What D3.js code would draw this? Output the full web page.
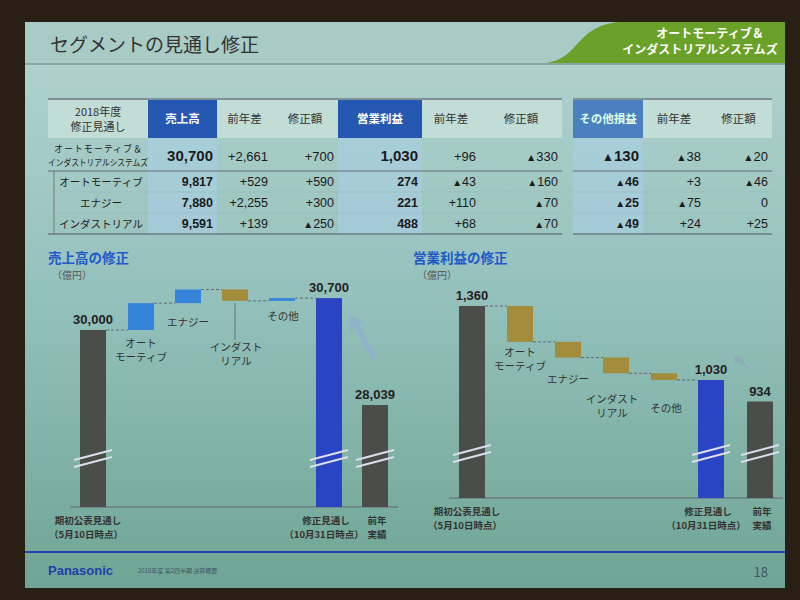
<!DOCTYPE html>
<html><head><meta charset="utf-8">
<script src="https://cdn.jsdelivr.net/npm/d3@7/dist/d3.min.js"></script>
<style>body{margin:0;background:#2a1f14}svg{display:block}</style>
</head><body><svg id="c" width="800" height="600"></svg>
<script>
const tableCols = ["売上高","前年差","修正額","営業利益","前年差","修正額"];
const tableCols2 = ["その他損益","前年差","修正額"];
const rowLabels = [["オートモーティブ＆","インダストリアルシステムズ"],["オートモーティブ"],["エナジー"],["インダストリアル"]];
const salesRows = [["30,700","+2,661","+700"],["9,817","+529","+590"],["7,880","+2,255","+300"],["9,591","+139","▲250"]];
const profitRows = [["1,030","+96","▲330"],["274","▲43","▲160"],["221","+110","▲70"],["488","+68","▲70"]];
const otherRows = [["▲130","▲38","▲20"],["▲46","+3","▲46"],["▲25","▲75","0"],["▲49","+24","+25"]];

const salesStart = 30000, salesEnd = 30700, salesPrev = 28039;
const salesSteps = [{n:"オートモーティブ",v:590},{n:"エナジー",v:300},{n:"インダストリアル",v:-250},{n:"その他",v:60}];
const profStart = 1360, profEnd = 1030, profPrev = 934;
const profSteps = [{n:"オートモーティブ",v:-160},{n:"エナジー",v:-70},{n:"インダストリアル",v:-70},{n:"その他",v:-30}];

const svg = d3.select("#c");
const F = "'Noto Sans CJK JP','Noto Sans',sans-serif";
const N = "'Liberation Sans','DejaVu Sans',sans-serif";
const defs = svg.append("defs");
const g1 = defs.append("linearGradient").attr("id","bg").attr("x1",0).attr("y1",0).attr("x2",0).attr("y2",1);
g1.append("stop").attr("offset","0").attr("stop-color","#b4d4cf");
g1.append("stop").attr("offset","0.5").attr("stop-color","#93c0bb");
g1.append("stop").attr("offset","1").attr("stop-color","#6fa594");
svg.append("rect").attr("x",25).attr("y",22).attr("width",760).attr("height",566).attr("fill","url(#bg)");
svg.append("rect").attr("x",25).attr("y",22).attr("width",760).attr("height",41).attr("fill","#a9cbc6");
svg.append("line").attr("x1",25).attr("x2",785).attr("y1",64).attr("y2",64).attr("stroke","#7a9a95").attr("stroke-width",1.5);
svg.append("path").attr("d","M545,63 C580,60 575,25 620,22 L785,22 L785,63 Z").attr("fill","#6aa128");
svg.append("text").attr("x",50).attr("y",52).attr("font-family",F).attr("font-size",19).attr("fill","#333").text("セグメントの見通し修正");
svg.append("text").attr("x",710).attr("y",38).attr("text-anchor","middle").attr("font-family",F).attr("font-size",12).attr("font-weight","bold").attr("fill","#fff").text("オートモーティブ＆");
svg.append("text").attr("x",700).attr("y",54).attr("text-anchor","middle").attr("font-family",F).attr("font-size",12).attr("font-weight","bold").attr("fill","#fff").text("インダストリアルシステムズ");

const rowY = [[100,138],[140,170],[172,192],[193,213],[214,234]];
const colX = [48,148,217,272,338,422,480,562];
const colX2 = [573,643,705,772];
const T = svg.append("g").attr("font-family",F);
T.append("rect").attr("x",48).attr("y",100).attr("width",514).attr("height",38).attr("fill","#c2dcd6");
T.append("rect").attr("x",573).attr("y",100).attr("width",199).attr("height",38).attr("fill","#c2dcd6");
T.append("rect").attr("x",148).attr("y",100).attr("width",69).attr("height",38).attr("fill","#2558b0");
T.append("rect").attr("x",338).attr("y",100).attr("width",84).attr("height",38).attr("fill","#2558b0");
T.append("rect").attr("x",573).attr("y",100).attr("width",70).attr("height",38).attr("fill","#4a7fc0");
T.append("rect").attr("x",148).attr("y",138).attr("width",69).attr("height",96).attr("fill","#a6cde0").attr("opacity",0.7);
T.append("rect").attr("x",338).attr("y",138).attr("width",84).attr("height",96).attr("fill","#a6cde0").attr("opacity",0.7);
T.append("rect").attr("x",573).attr("y",138).attr("width",70).attr("height",96).attr("fill","#a6cde0").attr("opacity",0.7);
[[48,562],[573,772]].forEach(([a,b])=>{
  T.append("line").attr("x1",a).attr("x2",b).attr("y1",99).attr("y2",99).attr("stroke","#556").attr("stroke-width",1.2);
  T.append("line").attr("x1",a).attr("x2",b).attr("y1",234).attr("y2",234).attr("stroke","#556").attr("stroke-width",1.2);
  T.append("line").attr("x1",a).attr("x2",b).attr("y1",171).attr("y2",171).attr("stroke","#556").attr("stroke-width",0.8);
  [192,213].forEach(y=>T.append("line").attr("x1",a+(a===48?6:0)).attr("x2",b).attr("y1",y).attr("y2",y).attr("stroke","#9bb").attr("stroke-width",0.6));
});
T.append("line").attr("x1",54).attr("x2",54).attr("y1",171).attr("y2",234).attr("stroke","#667").attr("stroke-width",0.8);
T.append("text").attr("x",98).attr("y",116).attr("text-anchor","middle").attr("font-size",11).attr("fill","#333").text("2018年度");
T.append("text").attr("x",98).attr("y",131).attr("text-anchor","middle").attr("font-size",11).attr("fill","#333").text("修正見通し");
tableCols.forEach((c,i)=>{
  const hl = i===0||i===3;
  T.append("text").attr("x",(colX[i+1]+colX[i+2])/2).attr("y",123).attr("text-anchor","middle").attr("font-size",11.5)
   .attr("font-weight",hl?"bold":"normal").attr("fill",hl?"#fff":"#333").text(c);
});
tableCols2.forEach((c,i)=>{
  T.append("text").attr("x",(colX2[i]+colX2[i+1])/2).attr("y",123).attr("text-anchor","middle").attr("font-size",11.5)
   .attr("font-weight",i===0?"bold":"normal").attr("fill",i===0?"#dfe":"#333").text(c);
});
rowLabels.forEach((l,r)=>{
  const [y0,y1]=rowY[r+1], cy=(y0+y1)/2;
  if(l.length===2){
    T.append("text").attr("x",98).attr("y",cy-3).attr("text-anchor","middle").attr("font-size",9).attr("textLength",88).attr("fill","#222").text(l[0]);
    T.append("text").attr("x",98).attr("y",cy+11).attr("text-anchor","middle").attr("font-size",9).attr("textLength",100).attr("lengthAdjust","spacingAndGlyphs").attr("fill","#222").text(l[1]);
  } else T.append("text").attr("x",101).attr("y",cy+4).attr("text-anchor","middle").attr("font-size",10.5).attr("fill","#222").text(l[0]);
  const big = r===0;
  const put=(vals,xs)=>vals.forEach((v,i)=>{
    const fs=i===0?(big?15:12.5):(big?13:12.5);
    const t=T.append("text").attr("x",xs[i+1]-4).attr("y",cy+(big?6:4)).attr("text-anchor","end").attr("font-family",N)
     .attr("font-size",fs).attr("font-weight",i===0?"bold":"normal").attr("fill","#1a1a1a");
    if(v.startsWith("▲")){t.append("tspan").attr("font-size",fs*0.8).text("▲");t.append("tspan").text(v.slice(1));}
    else t.text(v);
  });
  put(salesRows[r],colX.slice(1));
  put(profitRows[r],colX.slice(4));
  put(otherRows[r],[0].concat(colX2.slice(1)).map((x,i)=>i===0?0:x));
});

function waterfall(o){
  const G = svg.append("g").attr("font-family",F);
  const y = d3.scaleLinear().domain(o.dom).range(o.rng);
  G.append("text").attr("x",o.tx).attr("y",263).attr("font-size",13.5).attr("font-weight","bold").attr("fill","#1f5bc8").text(o.title);
  G.append("text").attr("x",o.tx+4).attr("y",279).attr("font-size",10).attr("fill","#555").text("（億円）");
  G.append("line").attr("x1",o.xs[0]-10).attr("x2",o.xs[6]+36).attr("y1",o.base).attr("y2",o.base).attr("stroke","#667").attr("stroke-width",1.2);
  const w = 26;
  const bar=(x,a,b,c)=>G.append("rect").attr("x",x).attr("width",w).attr("y",Math.min(y(a),y(b))).attr("height",Math.max(1.5,Math.abs(y(a)-y(b)))).attr("fill",c);
  bar(o.xs[0],0,o.start,"#4b4d48");
  let cur=o.start;
  o.steps.forEach((s,i)=>{
    const nx=cur+s.v;
    G.append("line").attr("x1",o.xs[i]+w).attr("x2",o.xs[i+1]).attr("y1",y(cur)).attr("y2",y(cur)).attr("stroke","#556").attr("stroke-dasharray","3,2").attr("stroke-width",0.8);
    bar(o.xs[i+1],cur,nx,s.v>0?"#3584dc":"#a38c3c");
    cur=nx;
  });
  G.append("line").attr("x1",o.xs[4]+w).attr("x2",o.xs[5]).attr("y1",y(cur)).attr("y2",y(cur)).attr("stroke","#556").attr("stroke-dasharray","3,2").attr("stroke-width",0.8);
  bar(o.xs[5],0,o.end,"#2a45c4");
  bar(o.xs[6],0,o.prev,"#4b4d48");
  [[0,o.start],[5,o.end],[6,o.prev]].forEach(([i,v])=>{
    G.append("text").attr("x",o.xs[i]+w/2).attr("y",y(v)-6).attr("text-anchor","middle").attr("font-family",N).attr("font-size",13).attr("font-weight","bold").attr("fill","#222").text(d3.format(",")(v));
    const by=o.brk[i===0?0:1];
    [0,7].forEach(d=>G.append("line").attr("x1",o.xs[i]-6).attr("x2",o.xs[i]+w+6).attr("y1",by+d+5).attr("y2",by+d-5).attr("stroke","#dde").attr("stroke-width",2));
  });
  o.labels.forEach(L=>L.t.forEach((t,k)=>G.append("text").attr("x",L.x).attr("y",L.y+k*14).attr("text-anchor","middle").attr("font-size",10.5).attr("fill","#333").text(t)));
  const lab=(x,yy,t)=>G.append("text").attr("x",x).attr("y",yy).attr("text-anchor","middle").attr("font-size",9.5).attr("font-weight","bold").attr("fill","#333").text(t);
  lab(o.xs[0]+8,o.base+17,"期初公表見通し"); lab(o.xs[0]+6,o.base+31,"（5月10日時点）");
  lab(o.xs[5]+10,o.base+17,"修正見通し"); lab(o.xs[5]+8,o.base+31,"（10月31日時点）");
  lab(o.xs[6]+w/2+2,o.base+17,"前年"); lab(o.xs[6]+w/2+2,o.base+31,"実績");
  return G;
}
const gs = waterfall({title:"売上高の修正",tx:48,base:507,dom:[0,salesPrev,salesStart,30900],rng:[507,405,330,289],
  xs:[80,128,175,222,269,316,362],start:salesStart,end:salesEnd,prev:salesPrev,steps:salesSteps,brk:[455,455],
  labels:[{x:141,y:347,t:["オート","モーティブ"]},{x:188,y:326,t:["エナジー"]},{x:236,y:351,t:["インダスト","リアル"]},{x:283,y:320,t:["その他"]}]});
gs.append("line").attr("x1",235).attr("x2",235).attr("y1",303).attr("y2",340).attr("stroke","#556").attr("stroke-width",0.7);
gs.append("path").attr("d","M372,360 L355,328 L350,332 L350,315 L364,322 L359,325 L377,357 Z").attr("fill","#8fb0cc").attr("opacity",0.85);
const gp = waterfall({title:"営業利益の修正",tx:413,base:498,dom:[0,profPrev,profStart],rng:[498,401.5,306],
  xs:[459,507,555,603,651,698,747],start:profStart,end:profEnd,prev:profPrev,steps:profSteps,brk:[450,450],
  labels:[{x:520,y:356,t:["オート","モーティブ"]},{x:568,y:383,t:["エナジー"]},{x:612,y:403,t:["インダスト","リアル"]},{x:666,y:412,t:["その他"]}]});
gp.append("path").attr("d","M748,370 L738,361 L735,364 L734,356 L742,357 L740,359 L750,368 Z").attr("fill","#8fa9b8").attr("opacity",0.85);

svg.append("line").attr("x1",25).attr("x2",785).attr("y1",552).attr("y2",552).attr("stroke","#2a3fb0").attr("stroke-width",2);
svg.append("text").attr("x",48).attr("y",575).attr("font-family",N).attr("font-size",13).attr("font-weight","bold").attr("fill","#1d3fa8").text("Panasonic");
svg.append("text").attr("x",138).attr("y",573).attr("font-family",F).attr("font-size",6).attr("fill","#456").text("2018年度 第2四半期 決算概要");
svg.append("text").attr("x",768).attr("y",577).attr("text-anchor","end").attr("font-family",F).attr("font-size",13).attr("fill","#456").text("18");
</script></body></html>
